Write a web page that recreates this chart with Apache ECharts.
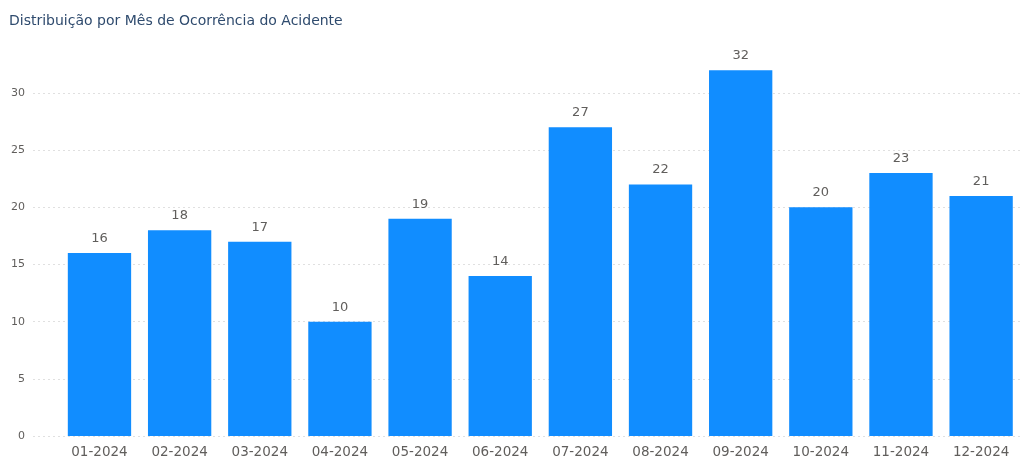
<!DOCTYPE html>
<html>
<head>
<meta charset="utf-8">
<script src="https://cdn.jsdelivr.net/npm/echarts@6/dist/echarts.min.js"></script>
<style>
html,body{margin:0;padding:0;background:#fff;}
#c{width:1033px;height:460px;}
</style>
</head>
<body>
<div id="c"></div>
<script>
const titleText = 'Distribuição por Mês de Ocorrência do Acidente';
const categories = ['01-2024','02-2024','03-2024','04-2024','05-2024','06-2024','07-2024','08-2024','09-2024','10-2024','11-2024','12-2024'];
const values = [16, 18, 17, 10, 19, 14, 27, 22, 32, 20, 23, 21];
const yTicks = [0, 5, 10, 15, 20, 25, 30];

const chart = echarts.init(document.getElementById('c'), null, {renderer:'canvas'});
const yMin = 0, yMax = 33, yStep = 5;
chart.setOption({
  animation:false,
  backgroundColor:'#ffffff',
  title:{
    text:titleText, left:4, top:9,
    textStyle:{fontFamily:'DejaVu Sans', fontSize:14, fontWeight:'normal', color:'#2F4B6E'}
  },
  grid:[
    {left:33, right:12, top:58.7, bottom:24, containLabel:false},
    {left:59.4, right:11.8, top:58.7, bottom:24, containLabel:false}
  ],
  xAxis:[
    {gridIndex:0, type:'category', data:categories, show:false},
    {gridIndex:1, type:'category', data:categories,
     axisLine:{show:false}, axisTick:{show:false},
     axisLabel:{margin:9, fontFamily:'DejaVu Sans', fontSize:13.5, color:'#605E5C'}}
  ],
  yAxis:[
    {gridIndex:0, type:'value', min:yMin, max:yMax, interval:yStep,
     axisLine:{show:false}, axisTick:{show:false},
     axisLabel:{margin:8, fontFamily:'DejaVu Sans', fontSize:11, color:'#605E5C', showMaxLabel:false,
       formatter:function(v){return yTicks.indexOf(v) >= 0 ? String(v) : '';}},
     splitLine:{show:true, showMaxLine:false, lineStyle:{color:'#E0E0E0', type:[2,3], width:1}}},
    {gridIndex:1, type:'value', min:yMin, max:yMax, interval:yStep, show:false,
     splitLine:{show:false}}
  ],
  series:[{
    type:'bar', xAxisIndex:1, yAxisIndex:1, data:values,
    barCategoryGap:'21%',
    itemStyle:{color:'#118DFF'},
    label:{show:true, position:'top', distance:8, fontFamily:'DejaVu Sans', fontSize:13, color:'#605E5C'}
  }]
});
</script>
</body>
</html>
